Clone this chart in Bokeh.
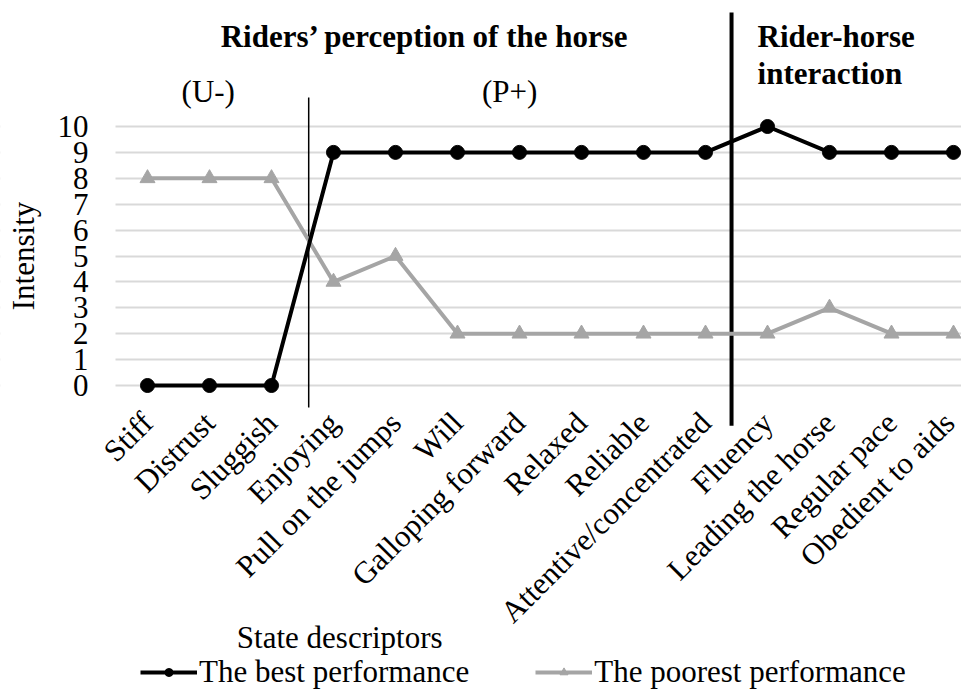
from bokeh.plotting import figure
from bokeh.models import Range1d, FixedTicker, Label, Legend, LegendItem, BoxAnnotation
from bokeh.embed import file_html
from bokeh.resources import INLINE

# ---- data ----
descriptors = ["Stiff", "Distrust", "Sluggish", "Enjoying", "Pull on the jumps", "Will",
               "Galloping forward", "Relaxed", "Reliable", "Attentive/concentrated",
               "Fluency", "Leading the horse", "Regular pace", "Obedient to aids"]
best = [0, 0, 0, 9, 9, 9, 9, 9, 9, 9, 10, 9, 9, 9]
poorest = [8, 8, 8, 4, 5, 2, 2, 2, 2, 2, 2, 3, 2, 2]
y_ticks = list(range(0, 11))
series_names = ["The best performance", "The poorest performance"]

# group separators (category-index space)
thin_sep_x, thin_sep_y = 2.6, (-0.85, 11.12)
thick_sep_x, thick_sep_y = 9.42, (-1.55, 14.4)
plot_left = -0.516  # left edge of the plotting area in category-index space

FONT = "Liberation Serif"
FS = "31px"

xs = list(range(len(descriptors)))

p = figure(width=961, height=690, output_backend="svg", toolbar_location=None,
           x_range=Range1d(-2.371, 13.129), y_range=Range1d(-11.776, 14.865),
           min_border_left=0, min_border_right=0, min_border_top=0, min_border_bottom=0)
p.outline_line_color = None
p.background_fill_color = "white"

# y axis (inside the frame)
ya = p.yaxis[0]
ya.fixed_location = plot_left
ya.ticker = FixedTicker(ticks=y_ticks)
ya.bounds = (0, 10)
ya.axis_line_color = None
ya.major_tick_line_color = None
ya.minor_tick_line_color = None
ya.major_tick_out = 0
ya.major_label_standoff = 27
ya.major_label_text_font = FONT
ya.major_label_text_font_size = FS
ya.major_label_text_color = "black"
ya.axis_label = "Intensity"
ya.axis_label_text_font = FONT
ya.axis_label_text_font_size = FS
ya.axis_label_text_font_style = "normal"
ya.axis_label_text_color = "black"
ya.axis_label_standoff = 14

# x axis (inside the frame)
xa = p.xaxis[0]
xa.fixed_location = 0
xa.ticker = FixedTicker(ticks=xs)
xa.major_label_overrides = {i: d for i, d in enumerate(descriptors)}
xa.major_label_orientation = 0.785398
xa.axis_line_color = None
xa.major_tick_line_color = None
xa.minor_tick_line_color = None
xa.major_tick_out = 0
xa.major_label_standoff = 32
xa.major_label_text_font = FONT
xa.major_label_text_font_size = FS
xa.major_label_text_color = "black"

p.xgrid.visible = False
p.ygrid.ticker = FixedTicker(ticks=y_ticks)
p.ygrid.grid_line_color = "#d9d9d9"
p.ygrid.grid_line_width = 2
# mask the grid to the left of the plotting area
p.add_layout(BoxAnnotation(right=plot_left, fill_color="white", fill_alpha=1,
                           line_color=None, level="underlay"))

# separators
p.segment(x0=[thin_sep_x], y0=[thin_sep_y[0]], x1=[thin_sep_x], y1=[thin_sep_y[1]],
          line_color="black", line_width=1.5)
p.segment(x0=[thick_sep_x], y0=[thick_sep_y[0]], x1=[thick_sep_x], y1=[thick_sep_y[1]],
          line_color="black", line_width=4)

# series
gl = p.line(xs, poorest, line_color="#a5a5a5", line_width=4)
gm = p.scatter(xs, poorest, marker="triangle", size=15, fill_color="#a5a5a5", line_color="#a5a5a5")
bl = p.line(xs, best, line_color="black", line_width=4)
bm = p.scatter(xs, best, marker="circle", size=14, fill_color="black", line_color="black")

legend = Legend(items=[LegendItem(label=series_names[0], renderers=[bl, bm]),
                       LegendItem(label=series_names[1], renderers=[gl, gm])],
                orientation="horizontal", location=(140, 0),
                label_text_font=FONT, label_text_font_size=FS, label_text_color="black",
                glyph_width=57, glyph_height=20, label_standoff=2, spacing=66,
                padding=0, margin=0, border_line_color=None, background_fill_alpha=0)
p.add_layout(legend, "center")

def lab(x, y, t, align="center", bold=False):
    p.add_layout(Label(x=x, y=y, text=t, text_align=align, text_baseline="alphabetic",
                       text_font=FONT, text_font_size=FS,
                       text_font_style="bold" if bold else "normal", text_color="black"))

lab(4.48, 13.47, "Riders\u2019 perception of the horse", bold=True)
lab(9.84, 13.47, "Rider-horse", align="left", bold=True)
lab(9.84, 12.06, "interaction", align="left", bold=True)
lab(0.98, 11.35, "(U-)")
lab(5.84, 11.35, "(P+)")
lab(3.10, -9.73, "State descriptors")

open("out.html", "w").write(file_html(p, INLINE))
